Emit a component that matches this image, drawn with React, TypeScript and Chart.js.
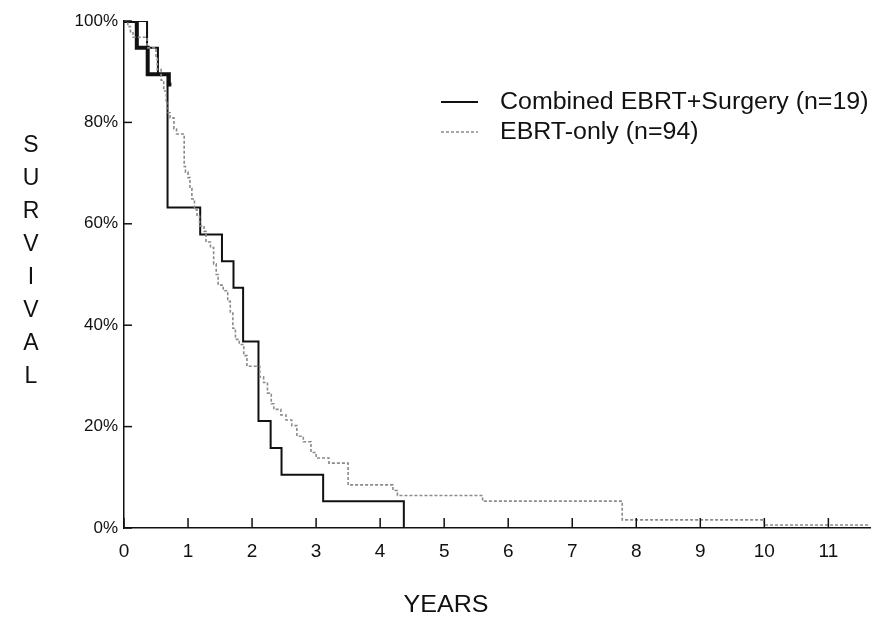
import { useEffect, useRef } from "react";
import { Chart, registerables } from "chart.js";

Chart.register(...registerables);

// Axis ticks
const yearTicks = [0, 1, 2, 3, 4, 5, 6, 7, 8, 9, 10, 11];
const survivalTicks = [0, 20, 40, 60, 80, 100];

// Kaplan-Meier steps: time of event (years) and survival (%) after it
const combinedYears = [0, 0.36, 0.53, 0.68, 1.19, 1.53, 1.71, 1.86, 2.1, 2.29, 2.46, 3.11, 4.37];
const combinedSurvival = [100, 94.7, 89.5, 63.2, 57.9, 52.6, 47.4, 36.8, 21.1, 15.8, 10.5, 5.3, 0];

const earlyYears = [0, 0.2, 0.37, 0.7, 0.74];
const earlySurvival = [100, 94.7, 89.5, 87.5, 87.5];

const ebrtYears = [
  0, 0.06, 0.1, 0.14, 0.36, 0.5, 0.52, 0.58, 0.62, 0.66, 0.69, 0.72, 0.78, 0.82, 0.94, 0.96,
  1.0, 1.03, 1.06, 1.1, 1.14, 1.18, 1.25, 1.28, 1.35, 1.4, 1.44, 1.47, 1.55, 1.62, 1.66, 1.7,
  1.74, 1.8, 1.87, 1.92, 2.12, 2.18, 2.24, 2.3, 2.34, 2.45, 2.53, 2.62, 2.7, 2.8, 2.92, 3.0,
  3.2, 3.5, 4.2, 4.27, 5.6, 7.78, 10.0, 11.65,
];
const ebrtSurvival = [
  100, 98.9, 97.9, 96.8, 94.7, 92.6, 90.4, 88.3, 86.2, 84.0, 81.9, 80.9, 78.7, 77.7, 71.3, 70.2,
  69.1, 67.0, 64.9, 62.8, 61.7, 59.6, 58.5, 56.4, 55.3, 52.1, 50.0, 47.9, 46.8, 44.7, 42.6, 39.4,
  37.2, 36.2, 34.0, 31.9, 29.8, 28.7, 26.6, 24.5, 23.4, 22.3, 21.3, 20.2, 18.1, 17.0, 14.9, 13.8,
  12.8, 8.5, 7.4, 6.4, 5.3, 1.6, 0.6, 0.6,
];

const legendLabels = ["Combined EBRT+Surgery (n=19)", "EBRT-only (n=94)"];
const xTitle = "YEARS";
const yTitle = "SURVIVAL";

const FONT = "'Liberation Sans', Arial, Helvetica, sans-serif";
const INK = "#111111";
const GREY = "#8a8a8a";

const toPoints = (xs: number[], ys: number[]) => xs.map((x, i) => ({ x, y: ys[i] }));

// Text drawn with a slight horizontal stretch (wide grotesque look)
function wideText(ctx: CanvasRenderingContext2D, text: string, x: number, y: number, sx: number) {
  ctx.save();
  ctx.translate(x, y);
  ctx.scale(sx, 1);
  ctx.fillText(text, 0, 0);
  ctx.restore();
}

// Inward tick marks, the legend and the axis titles
const decorPlugin = {
  id: "decor",
  afterDraw(chart: any) {
    const { ctx, chartArea, scales } = chart;
    const xs = scales.x;
    const ys = scales.y;
    ctx.save();
    ctx.strokeStyle = INK;
    ctx.lineWidth = 1.5;
    yearTicks.forEach((v) => {
      const px = xs.getPixelForValue(v);
      ctx.beginPath();
      ctx.moveTo(px, chartArea.bottom);
      ctx.lineTo(px, chartArea.bottom - 10);
      ctx.stroke();
    });
    survivalTicks.forEach((v) => {
      const py = ys.getPixelForValue(v);
      ctx.beginPath();
      ctx.moveTo(chartArea.left, py);
      ctx.lineTo(chartArea.left + 8, py);
      ctx.stroke();
    });

    // legend
    const lx0 = 441;
    const lx1 = 478;
    const rows = [102, 132];
    ctx.lineWidth = 2;
    ctx.strokeStyle = INK;
    ctx.beginPath();
    ctx.moveTo(lx0, rows[0]);
    ctx.lineTo(lx1, rows[0]);
    ctx.stroke();
    ctx.strokeStyle = GREY;
    ctx.lineWidth = 1.5;
    ctx.setLineDash([3, 2]);
    ctx.beginPath();
    ctx.moveTo(lx0, rows[1]);
    ctx.lineTo(lx1, rows[1]);
    ctx.stroke();
    ctx.setLineDash([]);

    ctx.fillStyle = INK;
    ctx.font = `23px ${FONT}`;
    ctx.textAlign = "left";
    ctx.textBaseline = "middle";
    legendLabels.forEach((t, i) => wideText(ctx, t, 500, rows[i] + 1, 1.085));

    // axis titles
    ctx.font = `23px ${FONT}`;
    ctx.textAlign = "center";
    wideText(ctx, xTitle, 446, 606, 1.09);
    yTitle.split("").forEach((ch, i) => ctx.fillText(ch, 31, 146 + i * 33));
    ctx.restore();
  },
};

export default function App() {
  const ref = useRef<HTMLCanvasElement | null>(null);

  useEffect(() => {
    if (!ref.current) return;
    const chart = new Chart(ref.current, {
      type: "line",
      data: {
        datasets: [
          {
            label: legendLabels[1],
            data: toPoints(ebrtYears, ebrtSurvival),
            stepped: "before",
            borderColor: GREY,
            borderWidth: 1.6,
            borderDash: [3, 2],
            pointRadius: 0,
            fill: false,
          },
          {
            label: legendLabels[0],
            data: toPoints(combinedYears, combinedSurvival),
            stepped: "before",
            borderColor: INK,
            borderWidth: 2,
            pointRadius: 0,
            fill: false,
          },
          {
            label: "",
            data: toPoints(earlyYears, earlySurvival),
            stepped: "before",
            borderColor: INK,
            borderWidth: 4,
            pointRadius: 0,
            fill: false,
          },
        ],
      },
      options: {
        responsive: false,
        animation: false,
        devicePixelRatio: 1,
        layout: { padding: { left: 0, top: 21, right: 22, bottom: 0 } },
        plugins: {
          legend: { display: false },
          tooltip: { enabled: false },
          title: { display: false },
        },
        scales: {
          x: {
            type: "linear",
            min: 0,
            max: 11.65,
            afterFit: (s: any) => {
              s.height = 89;
            },
            ticks: {
              stepSize: 1,
              includeBounds: false,
              color: INK,
              font: { family: FONT, size: 19 },
              padding: 12,
              maxRotation: 0,
            },
            grid: { display: true, drawOnChartArea: false, drawTicks: false },
            border: { display: true, color: INK, width: 1.5 },
          },
          y: {
            type: "linear",
            min: 0,
            max: 100,
            afterFit: (s: any) => {
              s.width = 124;
            },
            ticks: {
              stepSize: 20,
              color: INK,
              font: { family: FONT, size: 17 },
              padding: 6,
              callback: (v: any) => `${v}%`,
            },
            grid: { display: true, drawOnChartArea: false, drawTicks: false },
            border: { display: true, color: INK, width: 1.5 },
          },
        },
      },
      plugins: [decorPlugin],
    });
    return () => chart.destroy();
  }, []);

  return (
    <div style={{ position: "fixed", left: 0, top: 0, width: 892, height: 617, background: "#fff" }}>
      <canvas ref={ref} width={892} height={617} style={{ display: "block" }} />
    </div>
  );
}
